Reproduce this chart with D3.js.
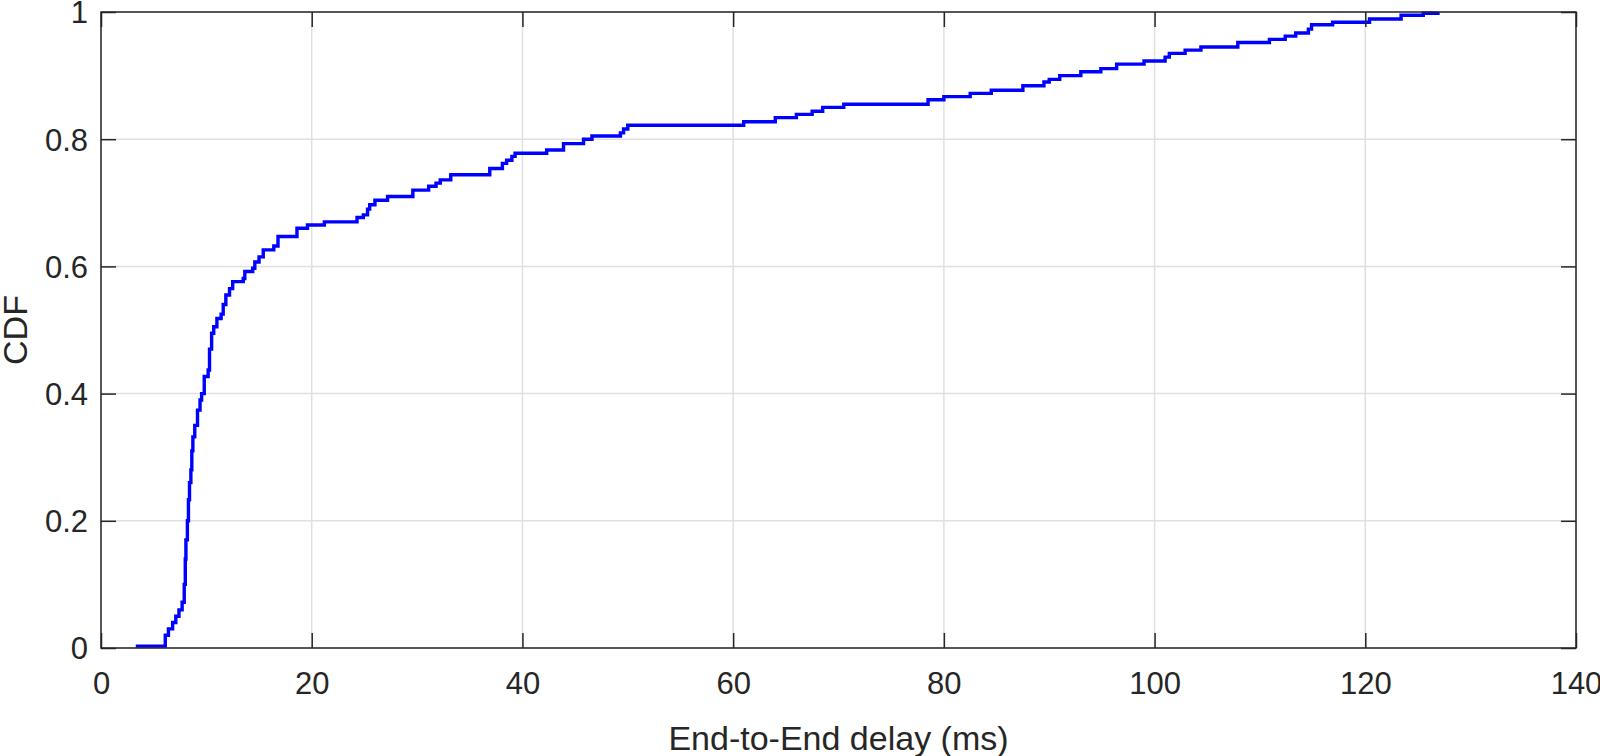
<!DOCTYPE html>
<html>
<head>
<meta charset="utf-8">
<script src="https://cdn.jsdelivr.net/npm/d3@7"></script>
<style>
  html, body { margin: 0; padding: 0; background: #fff; }
  svg { display: block; }
  text { font-family: "Liberation Sans", Arial, Helvetica, sans-serif; fill: #262626; }
</style>
</head>
<body>
<svg id="chart" width="1600" height="756"></svg>
<script>
// ---- data ----
const delayMs = [3.3, 6.1, 6.4, 6.8, 7.1, 7.4, 7.7, 7.9, 8.0, 8.06, 8.2, 8.3, 8.4, 8.53, 8.62, 8.72, 8.9, 9.16, 9.4, 9.55, 9.8, 10.17, 10.3, 10.5, 10.7, 11.0, 11.4, 11.6, 11.85, 12.2, 12.5, 13.5, 13.65, 14.4, 14.6, 15.0, 15.4, 16.4, 16.8, 18.6, 19.6, 21.2, 24.3, 24.9, 25.3, 25.5, 26.0, 27.2, 29.6, 31.1, 31.8, 32.2, 33.2, 36.9, 38.1, 38.5, 39.0, 39.3, 42.3, 43.9, 45.8, 46.6, 49.3, 49.6, 50.0, 61.0, 64.0, 66.0, 67.5, 68.5, 70.5, 78.5, 80.0, 82.5, 84.5, 87.5, 89.5, 90.0, 91.0, 93.0, 94.9, 96.4, 99.0, 101.0, 101.4, 102.9, 104.4, 107.9, 110.9, 112.4, 113.4, 114.6, 114.9, 116.9, 120.4, 123.4, 125.5, 126.9];
const cdfValue = [0.003, 0.02, 0.03, 0.04, 0.05, 0.06, 0.072, 0.10, 0.14, 0.17, 0.20, 0.233, 0.26, 0.28, 0.31, 0.332, 0.35, 0.374, 0.39, 0.40, 0.427, 0.437, 0.47, 0.495, 0.505, 0.518, 0.525, 0.54, 0.555, 0.565, 0.576, 0.581, 0.592, 0.597, 0.607, 0.615, 0.626, 0.632, 0.647, 0.66, 0.665, 0.670, 0.677, 0.681, 0.69, 0.697, 0.704, 0.71, 0.72, 0.726, 0.731, 0.736, 0.744, 0.754, 0.762, 0.767, 0.773, 0.778, 0.783, 0.793, 0.80, 0.805, 0.81, 0.816, 0.822, 0.8275, 0.834, 0.839, 0.844, 0.85, 0.855, 0.862, 0.867, 0.872, 0.877, 0.884, 0.89, 0.894, 0.90, 0.906, 0.911, 0.918, 0.923, 0.929, 0.935, 0.94, 0.945, 0.952, 0.957, 0.962, 0.967, 0.973, 0.98, 0.984, 0.989, 0.995, 0.998, 1.0];
const xTicks = [0, 20, 40, 60, 80, 100, 120, 140];
const yTicks = [0, 0.2, 0.4, 0.6, 0.8, 1];
const yTickLabels = ["0", "0.2", "0.4", "0.6", "0.8", "1"];
const xLabel = "End-to-End delay (ms)";
const yLabel = "CDF";

// ---- layout ----
const L = 101, R = 1576, T = 12, B = 648;
const svg = d3.select("#chart");
const x = d3.scaleLinear().domain([0, 140]).range([L, R]);
const y = d3.scaleLinear().domain([0, 1]).range([B, T]);
const axisColor = "#262626";

// grid
const grid = svg.append("g");
grid.selectAll("line.gx").data(xTicks).join("line")
  .attr("x1", d => x(d)).attr("x2", d => x(d)).attr("y1", T).attr("y2", B)
  .attr("stroke", "#e0e0e0").attr("stroke-width", 1.5);
grid.selectAll("line.gy").data(yTicks).join("line")
  .attr("y1", d => y(d)).attr("y2", d => y(d)).attr("x1", L).attr("x2", R)
  .attr("stroke", "#e0e0e0").attr("stroke-width", 1.5);

// data line
const pts = delayMs.map((d, i) => [d, cdfValue[i]]);
const line = d3.line().x(d => x(d[0])).y(d => y(d[1])).curve(d3.curveStepAfter);
svg.append("path").datum(pts)
  .attr("d", line)
  .attr("fill", "none")
  .attr("stroke", "#0000ff")
  .attr("stroke-width", 3.4)
  .attr("stroke-linejoin", "miter");

// axes
const tickLen = 15;
const gB = svg.append("g").attr("transform", `translate(0,${B})`)
  .call(d3.axisBottom(x).tickValues(xTicks).tickSizeInner(-tickLen).tickSizeOuter(0).tickFormat(d3.format("d")));
gB.selectAll("text").attr("y", 46).attr("dy", 0).style("font-size", "31px");
const gT = svg.append("g").attr("transform", `translate(0,${T})`)
  .call(d3.axisTop(x).tickValues(xTicks).tickSizeInner(-tickLen).tickSizeOuter(0).tickFormat(""));
const gL = svg.append("g").attr("transform", `translate(${L},0)`)
  .call(d3.axisLeft(y).tickValues(yTicks).tickSizeInner(-tickLen).tickSizeOuter(0).tickFormat((d, i) => yTickLabels[i]));
gL.selectAll("text").attr("x", -13).attr("dy", "0.35em").style("font-size", "31px");
const gR = svg.append("g").attr("transform", `translate(${R},0)`)
  .call(d3.axisRight(y).tickValues(yTicks).tickSizeInner(-tickLen).tickSizeOuter(0).tickFormat(""));
[gB, gT, gL, gR].forEach(g => {
  g.select(".domain").remove();
  g.selectAll("line").attr("stroke", axisColor).attr("stroke-width", 1.5);
  g.selectAll("text").attr("fill", axisColor).style("font-family", "'Liberation Sans', Arial, Helvetica, sans-serif");
});

// box
svg.append("rect").attr("x", L).attr("y", T).attr("width", R - L).attr("height", B - T)
  .attr("fill", "none").attr("stroke", axisColor).attr("stroke-width", 1.5);

// labels
svg.append("text").attr("x", (L + R) / 2).attr("y", 750)
  .attr("text-anchor", "middle").style("font-size", "34px").text(xLabel);
svg.append("text").attr("transform", `translate(27,${(T + B) / 2}) rotate(-90)`)
  .attr("text-anchor", "middle").style("font-size", "34px").text(yLabel);
</script>
</body>
</html>
